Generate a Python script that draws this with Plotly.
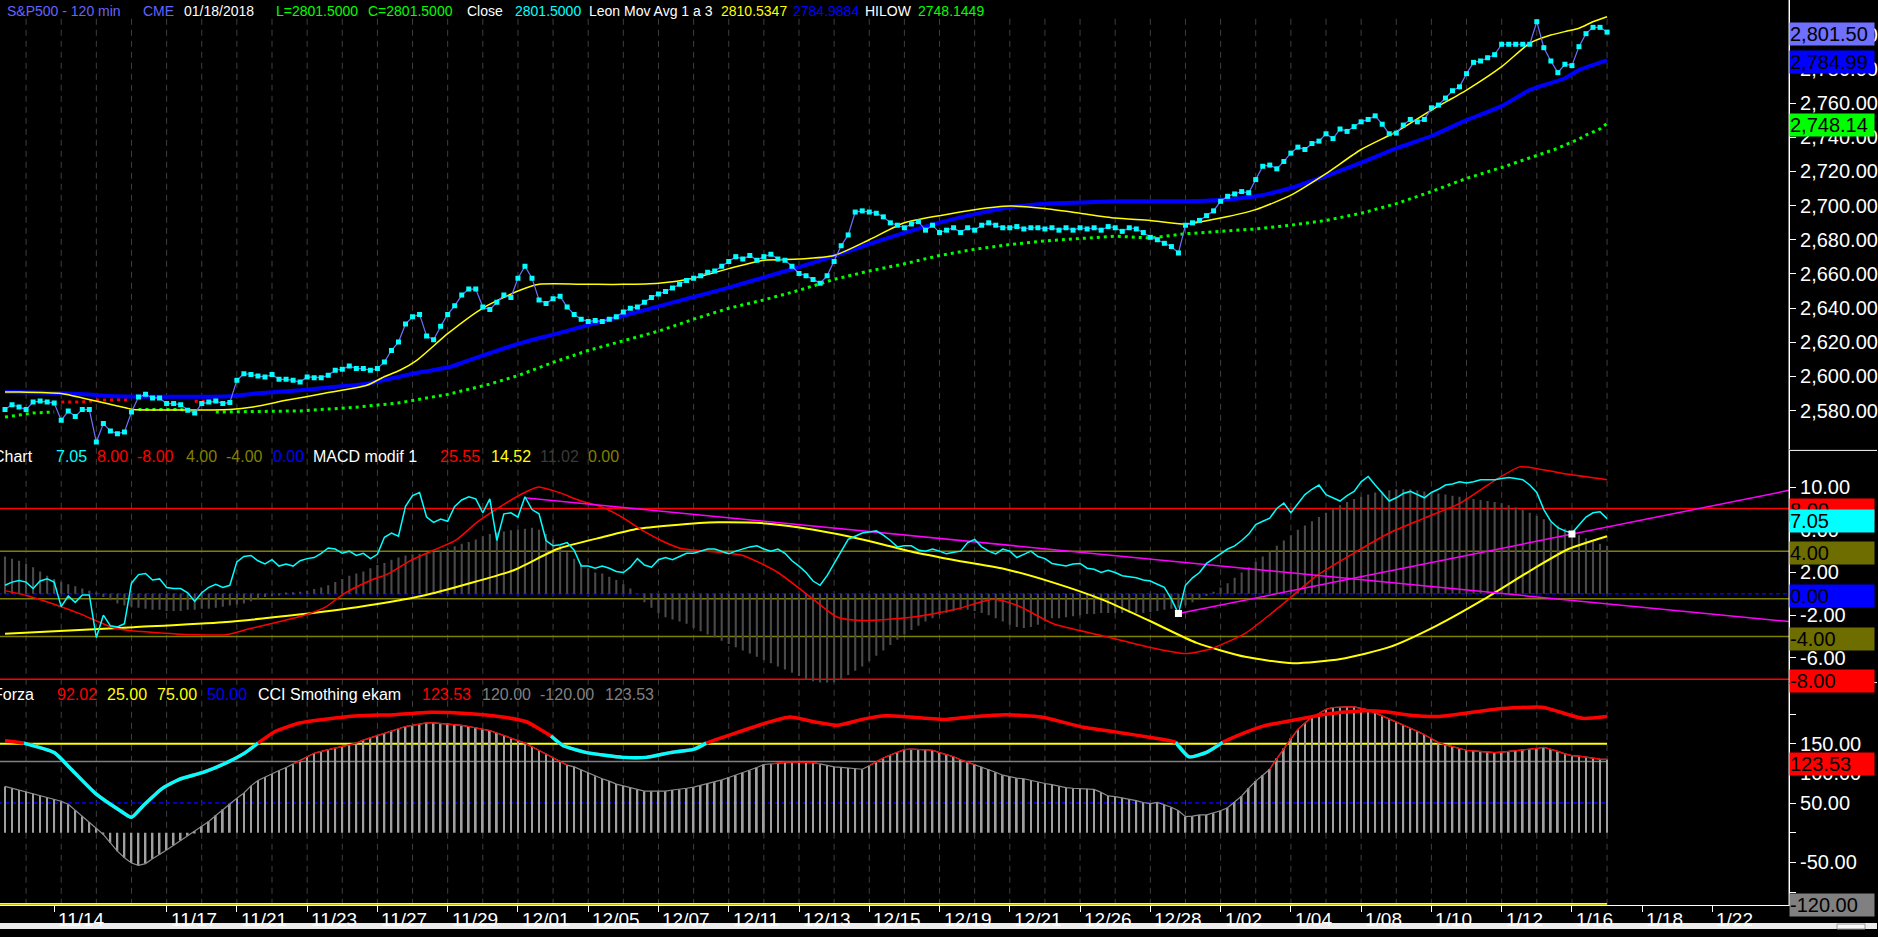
import plotly.graph_objects as go

W, H = 1878, 937
FONT = "Arial, 'Liberation Sans', sans-serif"
S = 1.0095   # vertical calibration of axis/panel positions

# ======================= DATA =======================
N = 229
bars = list(range(N))

close = [
    2580.6, 2583.5, 2582.1, 2580.6, 2585.0, 2585.6, 2585.0, 2584.4, 2574.3, 2579.7,   # 0-9
    2576.6, 2580.6, 2580.6, 2561.6, 2572.4, 2568.0, 2566.5, 2567.5, 2579.2, 2587.9,   # 10-19
    2589.5, 2587.4, 2587.4, 2584.1, 2584.1, 2583.5, 2580.2, 2578.6, 2584.1, 2585.0,   # 20-29
    2585.6, 2584.1, 2584.8, 2597.7, 2601.6, 2601.2, 2600.2, 2599.7, 2601.1, 2598.3,   # 30-39
    2598.3, 2597.7, 2596.7, 2599.7, 2599.3, 2599.3, 2600.7, 2603.6, 2604.2, 2606.1,   # 40-49
    2604.6, 2604.6, 2603.6, 2604.6, 2608.5,                                           # 50-54
    2615.2, 2620.1, 2630.7, 2634.9, 2636.3, 2623.7, 2621.5, 2629.3, 2636.3, 2641.3,   # 55-64
    2647.6, 2651.1, 2651.1, 2640.6, 2639.2, 2643.4, 2647.6, 2646.2, 2657.5, 2664.5,   # 65-74
    2657.5, 2644.8, 2642.7, 2645.5, 2646.9, 2640.6, 2636.3, 2633.5, 2632.1, 2632.8,   # 75-84
    2632.1, 2633.5, 2634.9, 2637.7, 2639.9, 2640.6, 2643.4, 2646.2, 2648.3, 2649.7,   # 85-94
    2651.8, 2653.9, 2656.1, 2657.5, 2658.9, 2661.0, 2661.7, 2664.5, 2667.3, 2670.1,   # 95-104
    2668.7, 2670.8, 2668.0, 2670.1, 2671.5, 2668.7, 2668.0, 2664.5, 2660.3, 2658.9,   # 105-114
    2656.8, 2654.6, 2658.9, 2667.3, 2676.5, 2682.8, 2696.2, 2696.9, 2696.2, 2695.5,   # 115-124
    2693.4, 2689.9, 2688.5, 2687.0, 2689.2, 2690.6, 2685.6, 2688.5, 2684.2, 2685.6,   # 125-134
    2687.0, 2684.2, 2687.0, 2685.6, 2688.5, 2689.9, 2688.5, 2687.0, 2687.0, 2687.7,   # 135-144
    2686.3, 2687.0, 2687.0, 2686.3, 2687.0, 2685.6, 2687.0, 2685.6, 2687.0, 2686.3,   # 145-154
    2687.0, 2685.6, 2687.7, 2687.0, 2684.9, 2687.0, 2686.3, 2684.2, 2681.4, 2680.0,   # 155-164
    2677.9, 2676.0, 2672.3, 2688.5, 2689.9, 2691.3, 2694.1, 2696.9, 2702.5, 2705.4,   # 165-174
    2706.8, 2708.2, 2707.5, 2715.2, 2723.0, 2723.7, 2721.5, 2725.8, 2730.7, 2734.2,   # 175-184
    2732.8, 2736.3, 2737.7, 2742.0, 2739.2, 2744.8, 2743.4, 2746.2, 2749.0, 2750.4,   # 185-194
    2752.5, 2747.6, 2742.0, 2742.4,                                                   # 195-198
    2747.1, 2750.4, 2749.0, 2750.4, 2757.2, 2758.8, 2762.9, 2767.2, 2769.5, 2777.2,   # 199-208
    2783.8, 2784.6, 2786.5, 2788.3, 2794.4, 2794.4, 2794.4, 2794.4, 2794.4, 2807.6,   # 209-218
    2792.4, 2784.6, 2777.8, 2782.7, 2781.9, 2793.0, 2800.6, 2804.3, 2804.3, 2801.5,   # 219-228
]

yellow_ma_bar = [0, 2, 8, 11, 14.5, 17.3, 18.3, 32, 35.3, 40, 45.3, 51.5, 53.9, 56.2, 58.6,
                 63, 68, 73, 76, 83, 88, 93, 98, 103, 108, 113, 118, 123, 128, 133, 138,
                 143, 148, 153, 158, 163, 168, 173, 178, 183, 188, 193, 198, 203, 208,
                 213, 217, 220, 222, 224, 226, 228]
yellow_ma_val = [2590.9, 2590.9, 2590.0, 2587.4, 2584.1, 2581.5, 2580.7, 2580.7, 2582.1,
                 2586.0, 2590.0, 2594.8, 2599.7, 2603.6, 2609.4,
                 2625.0, 2640.0, 2650.0, 2653.9, 2653.9, 2653.9, 2654.6, 2657.5, 2663.1,
                 2668.0, 2668.7, 2670.8, 2680.0, 2689.9, 2694.1, 2697.6,
                 2699.7, 2698.3, 2695.5, 2692.7, 2691.3, 2689.2, 2692.7, 2697.6, 2706.1,
                 2718.7, 2732.8, 2743.2, 2755.9, 2767.6,
                 2781.3, 2795.0, 2799.8, 2801.8, 2803.8, 2807.6, 2810.5]

blue_ma_bar = [0, 6, 12, 16, 32, 35.3, 42, 46.7, 51.5, 58, 63.3, 66,
               73, 78, 83, 88, 93, 98, 103, 108, 113, 118, 123, 128, 133, 138,
               143, 148, 153, 158, 163, 168, 173, 178, 183, 188, 193, 198, 203, 208,
               213, 217, 222, 224, 228]
blue_ma_val = [2590.9, 2590.5, 2589.4, 2588.4, 2588.4, 2589.9, 2591.9, 2593.8, 2595.8,
               2601.6, 2605.5, 2609.4,
               2619.0, 2624.5, 2630.0, 2635.5, 2641.0, 2646.5, 2652.0, 2658.0, 2664.0,
               2670.5, 2677.5, 2684.0, 2690.0, 2695.0,
               2699.0, 2701.1, 2701.8, 2702.5, 2702.5, 2702.5, 2703.2, 2705.4, 2710.3,
               2717.3, 2725.1, 2733.5, 2740.7, 2750.0,
               2758.2, 2767.6, 2774.5, 2779.3, 2784.99]

hilow_bar = [0, 1, 2, 3, 4, 5, 6, 7,
             8, 9, 10, 11, 12, 13, 14, 15, 16, 17, 18,
             19, 20, 21, 22, 23, 24, 25, 26,
             27, 28, 29,
             30, 42, 50, 56, 63, 69, 73, 78, 83, 88, 93, 98, 103, 108, 113, 118, 123,
             128, 133, 138, 143, 148, 153, 158, 163, 168, 173, 178, 183, 188, 193, 198,
             203, 208, 213, 218, 221, 222, 223, 224, 225, 226, 227, 228]
hilow_val = [2576.2, 2576.8, 2577.2, 2578.2, 2578.6, 2578.8, 2578.8, 2579.2,
             2585.0, 2585.0, 2585.0, 2585.0, 2585.5, 2586.2, 2586.2, 2586.2, 2586.2, 2586.4, 2586.4,
             2580.6, 2580.6, 2580.6, 2580.6, 2580.6, 2580.6, 2580.6, 2580.0,
             2585.5, 2585.5, 2585.5,
             2579.2, 2579.8, 2582.0, 2584.5, 2589.5, 2595.5, 2600.5, 2608.2, 2615.2,
             2620.8, 2626.5, 2633.5, 2639.9, 2644.8, 2650.4, 2656.8, 2661.7,
             2665.9, 2670.8, 2674.4, 2677.2, 2679.3, 2680.7, 2682.1, 2681.0, 2683.5,
             2684.9, 2686.3, 2688.5, 2691.3, 2695.5, 2701.1,
             2708.2, 2715.9, 2722.3, 2729.3, 2733.5, 2735.4, 2737.3, 2738.9, 2741.3,
             2743.0, 2744.8, 2748.14]

osc_cyan = [
    0.8, 1.1, 1.25, 1.1, 0.5, 1.2, 1.4, 1.1, -1.2, -0.2,          # 0-9
    -0.8, -0.1, -0.1, -4.1, -2.0, -3.0, -3.1, -2.8, 1.0, 1.8,     # 10-19
    1.9, 1.3, 1.4, 0.6, 0.5, 0.5, 0.1, -0.7, 0.1, 0.6,            # 20-29
    0.9, 0.6, 0.8, 3.0, 3.5, 3.6, 3.1, 2.8, 3.2, 2.6,             # 30-39
    2.8, 2.6, 3.1, 3.3, 3.4, 3.8, 4.3, 4.2, 3.8, 4.0,             # 40-49
    3.6, 3.8, 3.3, 3.7, 5.3, 5.7, 5.4, 8.2, 9.2, 9.5,             # 50-59
    7.2, 6.7, 7.0, 6.8, 8.2, 8.8, 9.1, 8.9, 7.6, 8.9,             # 60-69
    5.0, 7.5, 7.6, 7.2, 9.1, 7.9, 7.5, 5.0, 4.5, 4.6,             # 70-79
    4.8, 4.1, 2.6, 2.6, 2.4, 2.6, 2.4, 2.1, 2.0, 2.5,             # 80-89
    3.3, 2.7, 2.5, 3.2, 3.4, 3.2, 3.5, 3.8, 3.8, 4.0,             # 90-99
    4.2, 4.2, 4.0, 3.75, 4.0, 4.2, 4.4, 4.5, 4.2, 4.0,            # 100-109
    4.2, 3.8, 3.1, 2.6, 2.0, 1.2, 0.8, 1.7, 2.8, 4.0,             # 110-119
    5.1, 5.4, 5.7, 5.8, 5.9, 5.5, 5.0, 4.4, 4.5, 4.5,             # 120-129
    4.1, 4.0, 4.2, 4.0, 3.75, 3.9, 4.0, 4.8, 5.1, 4.4,            # 130-139
    4.0, 3.75, 4.2, 4.0, 3.4, 3.7, 4.0, 3.5, 3.3, 2.85,           # 140-149
    2.7, 2.6, 2.8, 2.85, 2.4, 2.3, 2.0, 2.2, 2.0, 1.7,            # 150-159
    1.6, 1.5, 1.3, 1.2, 0.9, 0.6, -0.5, -1.85, 0.8, 1.5,          # 160-169
    2.0, 2.85, 3.3, 3.75, 4.2, 4.5, 5.0, 5.6, 6.5, 6.8,           # 170-179
    7.1, 8.0, 8.5, 7.6, 8.5, 9.3, 9.8, 10.2, 9.3, 9.0,            # 180-189
    8.7, 9.2, 9.6, 10.5, 11.0, 10.2, 9.4, 8.7, 9.0, 9.4,          # 190-199
    9.6, 9.3, 9.0, 9.5, 9.8, 10.2, 10.3, 10.5, 10.4, 10.5,        # 200-209
    10.7, 10.7, 10.7, 10.8, 10.9, 10.8, 10.7, 10.2, 9.5, 7.9,     # 210-219
    6.8, 6.2, 5.9, 5.7, 6.5, 7.2, 7.6, 7.7, 7.05,                 # 220-228
]

macd_hist = [
    3.5, 3.3, 3.1, 2.8, 2.5, 2.1, 1.7, 1.4, 1.1, 0.9,             # 0-9
    0.7, 0.5, 0.3, 0.1, -0.3, -0.6, -0.9, -1.1, -1.2, -1.3,       # 10-19
    -1.4, -1.5, -1.5, -1.6, -1.6, -1.6, -1.5, -1.5, -1.4, -1.4,   # 20-29
    -1.3, -1.2, -1.1, -1.0, -0.9, -0.7, -0.5, -0.3, -0.2, -0.1,   # 30-39
    0.1, 0.15, 0.2, 0.3, 0.45, 0.6, 0.8, 1.1, 1.4, 1.7,           # 40-49
    1.9, 2.1, 2.4, 2.7, 2.9, 3.2, 3.4, 3.6, 3.7, 3.75,            # 50-59
    3.85, 3.95, 4.05, 4.2, 4.45, 4.7, 4.85, 5.1, 5.4, 5.6,        # 60-69
    5.75, 5.85, 5.95, 6.0, 6.1, 6.2, 6.0, 5.6, 5.1, 4.5,          # 70-79
    3.9, 3.3, 2.8, 2.4, 2.0, 1.9, 1.6, 1.3, 0.9, 0.5,             # 80-89
    0.0, -0.8, -1.3, -1.8, -2.2, -2.4, -2.6, -2.8, -3.2, -3.5,    # 90-99
    -3.8, -4.1, -4.4, -4.7, -5.0, -5.3, -5.6, -5.9, -6.2, -6.5,   # 100-109
    -6.8, -7.1, -7.4, -7.7, -8.0, -8.2, -8.4, -8.4, -8.3, -8.0,   # 110-119
    -7.6, -7.2, -6.8, -6.3, -5.8, -5.3, -4.8, -4.3, -3.8, -3.4,   # 120-129
    -3.0, -2.6, -2.3, -2.0, -1.8, -1.6, -1.5, -1.5, -1.6, -1.8,   # 130-139
    -2.0, -2.3, -2.6, -2.9, -3.1, -3.2, -3.1, -2.9, -2.6, -2.3,   # 140-149
    -2.3, -2.2, -2.1, -2.0, -1.9, -1.9, -1.8, -1.8, -1.8, -1.8,   # 150-159
    -1.8, -1.8, -1.8, -1.7, -1.6, -1.5, -1.4, -1.3, -1.1, -0.8,   # 160-169
    -0.5, -0.2, 0.2, 0.6, 1.0, 1.5, 2.0, 2.5, 3.0, 3.5,           # 170-179
    4.0, 4.5, 5.0, 5.5, 6.0, 6.4, 6.8, 7.2, 7.6, 8.0,             # 180-189
    8.3, 8.6, 8.9, 9.1, 9.3, 9.5, 9.6, 9.7, 9.8, 9.8,             # 190-199
    9.8, 9.7, 9.6, 9.5, 9.4, 9.3, 9.2, 9.1, 9.0, 8.9,             # 200-209
    8.8, 8.7, 8.6, 8.5, 8.3, 8.1, 7.9, 7.6, 7.3, 7.0,             # 210-219
    6.7, 6.4, 6.1, 5.8, 5.5, 5.2, 4.9, 4.7, 4.5,                  # 220-228
]

macd_red_bar = [0, 3.1, 7.5, 10.7, 15.2, 17.7, 22.8, 27.2, 31.7, 34.8, 38.7, 42.5, 45.6,
                48.2, 52, 54.5, 57.7, 60.9, 64.1, 67.2, 70.4, 73.6, 75.8, 78.7, 81.8, 85,
                88.2, 90.7, 93.9, 96.4, 100, 105, 110, 115, 118.5, 122, 129, 135.6, 140.7,
                144.1, 149.2, 156, 162.8, 168, 171.4, 176.5, 181.6, 186.7, 191.8, 197, 202,
                207.1, 212.2, 215.6, 219.1, 222.5, 228]
macd_red_val = [0.3, -0.16, -1.1, -1.88, -3.13, -3.44, -3.69, -3.84, -3.81, -3.28, -2.66,
                -2.03, -1.25, 0.0, 1.25, 1.87, 3.12, 4.06, 5.0, 6.72, 8.13, 9.38, 10.0, 9.53,
                8.75, 8.13, 7.03, 5.94, 4.84, 4.22, 4.0, 3.6, 2.0, -0.5, -2.2, -2.5, -2.2,
                -1.4, -0.5, -1.1, -2.8, -3.9, -5.0, -5.6, -5.2, -3.7, -1.1, 1.7, 3.75, 5.7,
                7.1, 8.5, 10.7, 11.9, 11.6, 11.2, 10.7]

macd_yellow_bar = [0, 18.3, 31, 40.6, 50.1, 59.6, 65.9, 72.3, 78.7, 85, 90.1, 98.8, 101.5,
                   108.3, 115.1, 122, 128.8, 135.6, 142.4, 149.2, 156, 162.8, 169.6, 176.5,
                   183.3, 190.1, 197, 203.7, 210.5, 217.4, 222.5, 228]
macd_yellow_val = [-3.75, -3.13, -2.66, -2.03, -1.25, -0.16, 0.94, 2.19, 4.22, 5.31, 6.09,
                   6.63, 6.7, 6.6, 6.0, 5.1, 4.0, 3.1, 2.3, 1.05, -0.5, -2.5, -4.6, -5.9,
                   -6.5, -6.1, -5.0, -3.0, -0.5, 2.3, 4.2, 5.4]

trend_down_bar = [73.9, 253.9]
trend_down_val = [9.0, -2.6]
trend_up_bar = [167, 253.9]
trend_up_val = [-1.85, 9.7]
pivot_bar = [167, 223]
pivot_val = [-1.85, 5.6]

forza_bar = [0, 2.7, 7, 9.5, 12.9, 16.3, 18, 19.7, 22.3, 24.8, 28.3, 31.7, 34.2, 36, 38.5,
             41.9, 45.3, 50.4, 55.5, 60.6, 65.7, 70.8, 74.2, 77.7, 79.4, 82.8, 87.9, 91.3,
             94.7, 98.1, 99.8, 103.2, 108.3, 111.7, 115.1, 118.5, 122, 125.4, 128.8, 133.9,
             137.3, 142.4, 147.5, 153.5, 158.5, 163.5, 166.6, 168.5, 171, 173.3, 176.2,
             179.3, 183.5, 188.2, 193.4, 196.5, 199.7, 204.2, 212.4, 218.8, 224.5, 228]
forza_val = [155, 151, 135, 106, 66, 38, 26, 46, 74, 90, 102, 119, 135, 151, 171,
             185, 191, 197, 199, 203, 201, 195, 187, 163, 147, 135, 127, 127,
             135, 141, 151, 165, 185, 195, 187, 181, 191, 197, 195, 191,
             195, 199, 195, 177.6, 169, 159.7, 152.3, 128, 135.4, 152.3, 167.5,
             180.4, 190, 200, 205.7, 204, 198.5, 196, 208.6, 211.3, 192.8, 196]

cci = [
    78, 75, 72, 69, 66, 63, 60, 57, 53, 48,                 # 0-9
    38, 28, 18, 8, -3, -17, -31, -42, -51, -55,             # 10-19
    -52, -44, -37, -29, -21, -13, -5, 3, 11, 19,            # 20-29
    29, 39, 49, 58, 67, 79, 88, 94, 99, 105,                # 30-39
    110, 116, 121, 128, 134, 137, 140, 143, 145, 148,       # 40-49
    151, 156, 160, 164, 168, 172, 175, 179, 181, 183,       # 50-59
    185, 185, 184, 184, 183, 181, 179, 177, 175, 172,       # 60-69
    168, 164, 159, 155, 151, 145, 139, 133, 126, 120,       # 70-79
    114, 111, 106, 101, 95, 91, 87, 82, 79, 76,             # 80-89
    73, 70, 70, 70, 70, 72, 73, 75, 77, 80,                 # 90-99
    82, 85, 89, 93, 97, 101, 105, 110, 115, 116,            # 100-109
    118, 119, 119, 119, 119, 118, 116, 113, 111, 110,       # 110-119
    109, 108, 107, 113, 120, 126, 131, 136, 140, 141,       # 120-129
    140, 140, 139, 135, 132, 128, 123, 119, 115, 111,       # 130-139
    107, 102, 97, 94, 92, 91, 88, 85, 83, 81,               # 140-149
    78, 76, 75, 74, 74, 73, 68, 62, 61, 59,                 # 150-159
    57, 54, 51, 49, 51, 47, 43, 37, 27, 28,                 # 160-169
    30, 30, 33, 37, 42, 52, 62, 75, 87, 97,                 # 170-179
    107, 125, 142, 159, 174, 185, 195, 201, 208, 211,       # 180-189
    212, 212, 212, 210, 207, 202, 197, 192, 187, 181,       # 190-199
    176, 171, 165, 159, 152, 148, 145, 142, 139, 138,       # 200-209
    137, 136, 135, 136, 137, 139, 140, 141, 142, 144,       # 210-219
    141, 137, 133, 130, 129, 127, 126, 124, 123.5,          # 220-228
]

date_labels = ["11/14", "11/17", "11/21", "11/23", "11/27", "11/29", "12/01", "12/05",
               "12/07", "12/11", "12/13", "12/15", "12/19", "12/21", "12/26", "12/28",
               "1/02", "1/04", "1/08", "1/10", "1/12", "1/16", "1/18", "1/22"]
date_bars = [7, 23, 33, 43, 53, 63, 73, 83, 93, 103, 113, 123, 133, 143, 153, 163,
             173, 183, 193, 203, 213, 223, 233, 243]

price_ticks = [2580, 2600, 2620, 2640, 2660, 2680, 2700, 2720, 2740, 2760, 2780, 2800]
macd_ticks = [-8, -6, -4, -2, 0, 2, 4, 6, 8, 10]
cci_ticks = [-100, -50, 0, 50, 100, 150, 200]
cci_tick_text = ["", "-50.00", "", "50.00", "100.00", "150.00", ""]

macd_levels = [8, 4, -0.45, -4, -8]
cci_levels = [150, 120, 50, -120]

for arr in (close, osc_cyan, macd_hist, cci):
    assert len(arr) == N, len(arr)

# ======================= FIGURE =======================
def yp(yfull, scale=True):
    y = yfull * S if scale else yfull
    return max(0.0, min(1.0, 1 - y / H))

X_END = 1790 / W
fig = go.Figure()

# ---------- top panel ----------
segs = []
cur = None
for b, v in zip(hilow_bar, hilow_val):
    col = "#ff0000" if v > close[int(b)] else "#00ff00"
    if cur is None or cur[0] != col:
        cur = [col, [], []]
        segs.append(cur)
    cur[1].append(b)
    cur[2].append(v)
for col, xs, ys in segs:
    fig.add_trace(go.Scatter(x=xs, y=ys, mode="lines", yaxis="y", xaxis="x",
                             line=dict(color=col, width=3, dash="3px,4px"),
                             hoverinfo="skip", showlegend=False))

fig.add_trace(go.Scatter(x=blue_ma_bar, y=blue_ma_val, mode="lines", yaxis="y",
                         line=dict(color="#0000ff", width=4, shape="spline", smoothing=0.6),
                         hoverinfo="skip", showlegend=False))
fig.add_trace(go.Scatter(x=yellow_ma_bar, y=yellow_ma_val, mode="lines", yaxis="y",
                         line=dict(color="#ffff00", width=1.5, shape="spline", smoothing=0.6),
                         hoverinfo="skip", showlegend=False))
fig.add_trace(go.Scatter(x=bars, y=close, mode="lines+markers", yaxis="y",
                         line=dict(color="#7070ff", width=1.2),
                         marker=dict(symbol="square", size=5, color="#00ffff", line=dict(width=0)),
                         hoverinfo="skip", showlegend=False))

# ---------- middle panel ----------
fig.add_trace(go.Bar(x=bars, y=macd_hist, yaxis="y2", width=0.3,
                     marker=dict(color="#4a4a4a", line=dict(width=0)),
                     hoverinfo="skip", showlegend=False))
fig.add_trace(go.Scatter(x=macd_yellow_bar, y=macd_yellow_val, mode="lines", yaxis="y2",
                         line=dict(color="#ffff00", width=2, shape="spline", smoothing=0.6),
                         hoverinfo="skip", showlegend=False))
fig.add_trace(go.Scatter(x=macd_red_bar, y=macd_red_val, mode="lines", yaxis="y2",
                         line=dict(color="#ff0000", width=1.5, shape="spline", smoothing=0.6),
                         hoverinfo="skip", showlegend=False))
for xs, ys in ((trend_down_bar, trend_down_val), (trend_up_bar, trend_up_val)):
    fig.add_trace(go.Scatter(x=xs, y=ys, mode="lines", yaxis="y2",
                             line=dict(color="#ff00ff", width=1.5),
                             hoverinfo="skip", showlegend=False))
fig.add_trace(go.Scatter(x=bars, y=osc_cyan, mode="lines", yaxis="y2",
                         line=dict(color="#00ffff", width=1.5),
                         hoverinfo="skip", showlegend=False))
fig.add_trace(go.Scatter(x=pivot_bar, y=pivot_val, mode="markers", yaxis="y2",
                         marker=dict(symbol="square", size=7, color="white"),
                         hoverinfo="skip", showlegend=False))

# ---------- bottom panel ----------
fig.add_trace(go.Bar(x=bars, y=cci, yaxis="y3", width=0.25,
                     marker=dict(color="#a0a0a0", line=dict(width=0)),
                     hoverinfo="skip", showlegend=False))
fig.add_trace(go.Scatter(x=bars, y=cci, mode="lines", yaxis="y3",
                         line=dict(color="#8c8c8c", width=1.2),
                         hoverinfo="skip", showlegend=False))

def overlay(vals, cond):
    out = []
    n = len(vals)
    for i, v in enumerate(vals):
        keep = cond(v) or (i > 0 and cond(vals[i - 1])) or (i < n - 1 and cond(vals[i + 1]))
        out.append(v if keep else None)
    return out

fig.add_trace(go.Scatter(x=bars, y=overlay(cci, lambda v: v >= 117), mode="lines", yaxis="y3",
                         line=dict(color="#ff0000", width=1.2), connectgaps=False,
                         hoverinfo="skip", showlegend=False))
fig.add_trace(go.Scatter(x=forza_bar, y=forza_val, mode="lines", yaxis="y3",
                         line=dict(color="#ff0000", width=3.5, shape="spline", smoothing=0.5),
                         hoverinfo="skip", showlegend=False))
fig.add_trace(go.Scatter(x=forza_bar, y=overlay(forza_val, lambda v: v < 150), mode="lines",
                         yaxis="y3", connectgaps=False,
                         line=dict(color="#00ffff", width=3.5, shape="spline", smoothing=0.5),
                         hoverinfo="skip", showlegend=False))

# ======================= SHAPES =======================
shapes = []
for k in range(3, N, 5):
    shapes.append(dict(type="line", xref="x", yref="paper", x0=k, x1=k,
                       y0=yp(904), y1=yp(16), layer="below",
                       line=dict(color="#3e3e3e", width=1, dash="6px,5px")))
mid_styles = [("#ff0000", "solid"), ("#808000", "solid"), ("#808000", "solid"),
              ("#808000", "solid"), ("#ff0000", "solid")]
for lv, (col, dsh) in zip(macd_levels, mid_styles):
    shapes.append(dict(type="line", xref="x", yref="y2", x0=-1, x1=254, y0=lv, y1=lv,
                       layer="below", line=dict(color=col, width=1.5, dash=dsh)))
shapes.append(dict(type="line", xref="x", yref="y2", x0=-1, x1=254, y0=0, y1=0,
                   layer="below", line=dict(color="#0000ff", width=1.5, dash="4px,3px")))
bot_styles = [("#ffff00", "solid", 2), ("#808080", "solid", 1.5), ("#0000ff", "4px,3px", 1.5),
              ("#ffff00", "solid", 2)]
for lv, (col, dsh, wd) in zip(cci_levels, bot_styles):
    shapes.append(dict(type="line", xref="x", yref="y3", x0=-1, x1=N - 1, y0=lv, y1=lv,
                       layer="below", line=dict(color=col, width=wd, dash=dsh)))
shapes.append(dict(type="line", xref="paper", yref="paper", x0=X_END, x1=X_END,
                   y0=yp(905), y1=1, line=dict(color="white", width=1)))
for yy in (450, 682):
    shapes.append(dict(type="line", xref="paper", yref="paper", x0=X_END, x1=1,
                       y0=yp(yy), y1=yp(yy), line=dict(color="white", width=1)))
shapes.append(dict(type="rect", xref="paper", yref="paper", x0=0, x1=1, y0=0,
                   y1=yp(931, False), fillcolor="#ececec", line=dict(width=0)))
shapes.append(dict(type="rect", xref="paper", yref="paper", x0=1838 / W, x1=1866 / W,
                   y0=0, y1=yp(932, False), fillcolor="#f8f8f8",
                   line=dict(color="#9a9a9a", width=1)))

# ======================= ANNOTATIONS =======================
ann = []

def txt(x, yfull, text, color, anchor="left", size=16):
    ann.append(dict(x=x / W, y=yp(yfull, False), xref="paper", yref="paper", text=text,
                    showarrow=False, xanchor=anchor, yanchor="middle",
                    font=dict(family=FONT, size=size, color=color)))

TOP = 14
txt(123, 11, "S&amp;P500 - 120 min", "#6464ff", "right", TOP)
for x, t, c in [(141, "CME", "#6464ff"), (182, "01/18/2018", "white"),
                (274, "L=2801.5000", "#00ff00"), (366, "C=2801.5000", "#00ff00"),
                (465, "Close", "white"), (513, "2801.5000", "#00ffff"),
                (587, "Leon Mov Avg 1 a 3", "white"), (719, "2810.5347", "#ffff00"),
                (791, "2784.9884", "#0000ff"), (863, "HILOW", "white"),
                (916, "2748.1449", "#00ff00")]:
    txt(x, 11, t, c, "left", TOP)

txt(35, 460, "Chart", "white", "right")
for x, t, c in [(54, "7.05", "#00ffff"), (95, "8.00", "#ff0000"), (135, "-8.00", "#ff0000"),
                (184, "4.00", "#808000"), (224, "-4.00", "#808000"), (271, "0.00", "#0000ff"),
                (311, "MACD modif 1", "white"), (438, "25.55", "#ff0000"),
                (489, "14.52", "#ffff00"), (538, "11.02", "#3a3a3a"), (586, "0.00", "#808000")]:
    txt(x, 460, t, c)

txt(36, 700, "Forza", "white", "right")
for x, t, c in [(55, "92.02", "#ff0000"), (105, "25.00", "#ffff00"), (155, "75.00", "#ffff00"),
                (205, "50.00", "#0000ff"), (256, "CCI Smothing ekam", "white"),
                (420, "123.53", "#ff0000"), (480, "120.00", "#808080"),
                (538, "-120.00", "#808080"), (603, "123.53", "#808080")]:
    txt(x, 700, t, c)

for b, lab in zip(date_bars, date_labels):
    ann.append(dict(x=b, y=yp(927, False), xref="x", yref="paper", text=lab, showarrow=False,
                    xanchor="left", yanchor="middle", xshift=2,
                    font=dict(family=FONT, size=19, color="white")))

def box(val, yref, text, bg, yshift=-2):
    ann.append(dict(x=X_END, y=val, xref="paper", yref=yref, text=text, showarrow=False,
                    xanchor="left", yanchor="middle", yshift=yshift, width=84, height=22,
                    align="left", bgcolor=bg, borderpad=0,
                    font=dict(family=FONT, size=20, color="black")))

box(2801.50, "y", "2,801.50", "#7070ff")
box(2784.99, "y", "2,784.99", "#0000ff")
box(2748.14, "y", "2,748.14", "#00ff00")
box(8.0, "y2", "8.00", "#ff0000")
box(7.05, "y2", "7.05", "#00ffff")
box(4.0, "y2", "4.00", "#6e6e00")
box(0.0, "y2", "0.00", "#0000ff")
box(-4.0, "y2", "-4.00", "#6e6e00")
box(-8.0, "y2", "-8.00", "#ff0000")
box(123.53, "y3", "123.53", "#ff0000", yshift=-5)
box(-120.0, "y3", "-120.00", "#808080", yshift=-1)

axis_common = dict(showgrid=False, zeroline=False, showline=True, linecolor="white",
                   linewidth=1, ticks="outside", ticklen=6, tickcolor="white",
                   side="right", anchor="x", fixedrange=True,
                   tickfont=dict(family=FONT, size=20, color="white"))

fig.update_layout(
    width=W, height=H,
    margin=dict(l=0, r=0, t=0, b=0),
    paper_bgcolor="black", plot_bgcolor="black",
    barmode="overlay", showlegend=False, hovermode=False,
    xaxis=dict(domain=[0, X_END], range=[-0.711, 253.9], anchor="y3", showgrid=False,
               zeroline=False, showline=True, linecolor="white", linewidth=1,
               ticks="outside", ticklen=6, tickcolor="white", tickvals=date_bars,
               showticklabels=False, fixedrange=True),
    yaxis=dict(domain=[yp(449), 1], range=[2557.3, 2820.3], tickvals=price_ticks,
               ticktext=[f"{v:,.2f}" for v in price_ticks], **axis_common),
    yaxis2=dict(domain=[yp(682), yp(451)], range=[-8.32, 13.35], tickvals=macd_ticks,
                ticktext=[f"{v:.2f}" for v in macd_ticks], **axis_common),
    yaxis3=dict(domain=[yp(904), yp(683)], range=[-121.4, 251.3], tickvals=cci_ticks,
                ticktext=cci_tick_text, **axis_common),
    shapes=shapes,
    annotations=ann,
)

fig.write_html("out.html", config={"displayModeBar": False},
               post_script="document.body.style.margin='0px';document.body.style.overflow='hidden';")
